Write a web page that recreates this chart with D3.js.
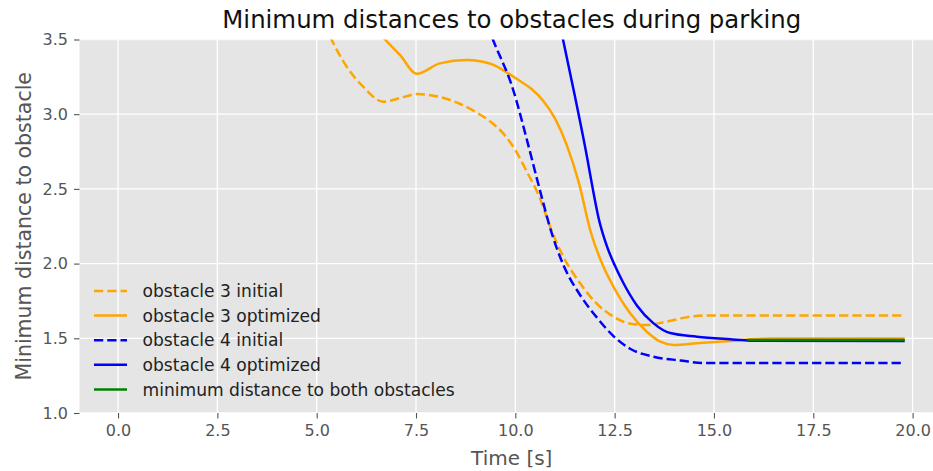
<!DOCTYPE html>
<html>
<head>
<meta charset="utf-8">
<script src="https://cdn.jsdelivr.net/npm/d3@7"></script>
<style>
  html, body { margin: 0; padding: 0; background: #ffffff; }
  svg { display: block; font-family: "DejaVu Sans", sans-serif; }
</style>
</head>
<body>
<svg id="chart" width="933" height="471"></svg>
<script>
// ---------------- data ----------------
const title = "Minimum distances to obstacles during parking";
const xLabel = "Time [s]";
const yLabel = "Minimum distance to obstacle";
const xTicks = [0, 2.5, 5, 7.5, 10, 12.5, 15, 17.5, 20];
const yTicks = [1.0, 1.5, 2.0, 2.5, 3.0, 3.5];

const obs3InitialT = [5.2, 5.41, 5.755, 6.17, 6.675, 7.1, 7.52, 8.1, 8.6, 9.0, 9.4, 9.7, 10.0, 10.3, 10.6, 10.9, 11.2, 11.6, 12.0, 12.5, 12.9, 13.3, 13.8, 14.3, 14.74, 19.8];
const obs3InitialV = [3.6, 3.48, 3.318, 3.184, 3.084, 3.108, 3.135, 3.115, 3.07, 3.015, 2.945, 2.87, 2.76, 2.61, 2.45, 2.23, 2.05, 1.88, 1.745, 1.64, 1.597, 1.589, 1.611, 1.64, 1.653, 1.653];

const obs3OptT = [6.5, 6.72, 7.1, 7.52, 8.1, 8.78, 9.11, 9.45, 9.78, 10.1, 10.4, 10.7, 11.0, 11.3, 11.6, 11.9, 12.2, 12.47, 12.89, 13.31, 13.65, 13.98, 14.57, 15.41, 15.91, 16.5, 19.8];
const obs3OptV = [3.565, 3.5, 3.395, 3.27, 3.34, 3.363, 3.354, 3.33, 3.28, 3.225, 3.17, 3.09, 2.97, 2.79, 2.54, 2.21, 1.99, 1.845, 1.667, 1.544, 1.477, 1.455, 1.467, 1.482, 1.493, 1.498, 1.499];

const obs4InitialT = [9.3, 9.45, 9.95, 10.29, 10.62, 10.92, 11.21, 11.63, 12.05, 12.47, 12.89, 13.48, 14.15, 14.74, 19.8];
const obs4InitialV = [3.59, 3.49, 3.16, 2.83, 2.49, 2.2, 1.99, 1.79, 1.64, 1.515, 1.43, 1.377, 1.352, 1.335, 1.335];

const obs4OptT = [11.12, 11.2, 11.5, 11.8, 11.95, 12.1, 12.3, 12.5, 12.7, 13.06, 13.48, 13.9, 14.57, 15.41, 15.91, 19.8];
const obs4OptV = [3.6, 3.5, 3.12, 2.72, 2.5, 2.3, 2.12, 1.99, 1.88, 1.72, 1.6, 1.535, 1.511, 1.493, 1.484, 1.482];

const minBothT = [15.85, 19.8];
const minBothV = [1.488, 1.488];

const seriesNames = ["obstacle 3 initial", "obstacle 3 optimized", "obstacle 4 initial", "obstacle 4 optimized", "minimum distance to both obstacles"];
const seriesColors = ["orange", "orange", "blue", "blue", "green"];
const seriesDashed = [true, false, true, false, false];
const seriesT = [obs3InitialT, obs3OptT, obs4InitialT, obs4OptT, minBothT];
const seriesV = [obs3InitialV, obs3OptV, obs4InitialV, obs4OptV, minBothV];

// ---------------- layout ----------------
const svg = d3.select("#chart");
const plot = { left: 79.5, right: 944, top: 39.5, bottom: 413 };

const x = d3.scaleLinear().domain([-0.97, 20.79]).range([plot.left, plot.right]);
const y = d3.scaleLinear().domain([1.0, 3.5]).range([plot.bottom, plot.top]);

svg.append("defs").append("clipPath").attr("id", "plotClip")
  .append("rect")
  .attr("x", plot.left).attr("y", plot.top)
  .attr("width", plot.right - plot.left).attr("height", plot.bottom - plot.top);

// background
svg.append("rect")
  .attr("x", plot.left).attr("y", plot.top)
  .attr("width", plot.right - plot.left).attr("height", plot.bottom - plot.top)
  .attr("fill", "#E5E5E5");

// grid
const grid = svg.append("g").attr("clip-path", "url(#plotClip)");
grid.selectAll(".gx").data(xTicks).enter().append("line")
  .attr("x1", d => x(d)).attr("x2", d => x(d))
  .attr("y1", plot.top).attr("y2", plot.bottom)
  .attr("stroke", "#ffffff").attr("stroke-width", 1.33);
grid.selectAll(".gy").data(yTicks).enter().append("line")
  .attr("x1", plot.left).attr("x2", plot.right)
  .attr("y1", d => y(d)).attr("y2", d => y(d))
  .attr("stroke", "#ffffff").attr("stroke-width", 1.33);

// axes
const xAxis = d3.axisBottom(x).tickValues(xTicks).tickFormat(d3.format(".1f")).tickSize(5.5).tickPadding(5);
const yAxis = d3.axisLeft(y).tickValues(yTicks).tickFormat(d3.format(".1f")).tickSize(5.5).tickPadding(6);

const gx = svg.append("g").attr("transform", `translate(0,${plot.bottom})`).call(xAxis);
const gy = svg.append("g").attr("transform", `translate(${plot.left},0)`).call(yAxis);
[gx, gy].forEach(g => {
  g.select(".domain").remove();
  g.selectAll(".tick line").attr("stroke", "#555555").attr("stroke-width", 1.1);
  g.selectAll(".tick text").attr("fill", "#555555").attr("font-size", "16px")
    .attr("font-family", "DejaVu Sans, sans-serif");
});
gx.selectAll(".tick text").attr("dy", "0.76em");

// lines
const lineGen = d3.line()
  .x(d => x(d[0])).y(d => y(d[1]))
  .curve(d3.curveMonotoneX);

const linesG = svg.append("g").attr("clip-path", "url(#plotClip)");
seriesNames.forEach((name, i) => {
  const pts = seriesT[i].map((t, k) => [t, seriesV[i][k]]);
  linesG.append("path")
    .datum(pts)
    .attr("d", lineGen)
    .attr("fill", "none")
    .attr("stroke", seriesColors[i])
    .attr("stroke-width", 2.5)
    .attr("stroke-dasharray", seriesDashed[i] ? "9.25,4" : null);
});

// title
svg.append("text")
  .attr("x", (plot.left + plot.right) / 2).attr("y", 28)
  .attr("text-anchor", "middle")
  .attr("font-size", "24.4px").attr("fill", "#111111")
  .text(title);

// axis labels
svg.append("text")
  .attr("x", (plot.left + plot.right) / 2).attr("y", 465)
  .attr("text-anchor", "middle")
  .attr("font-size", "20px").attr("fill", "#555555")
  .text(xLabel);

svg.append("text")
  .attr("transform", `translate(31,${(plot.top + plot.bottom) / 2}) rotate(-90)`)
  .attr("text-anchor", "middle")
  .attr("font-size", "20.5px").attr("fill", "#555555")
  .text(yLabel);

// legend
const legend = svg.append("g");
const legendTop = 291, legendStep = 24.6;
seriesNames.forEach((name, i) => {
  const yy = legendTop + i * legendStep;
  legend.append("line")
    .attr("x1", 94).attr("x2", 127)
    .attr("y1", yy).attr("y2", yy)
    .attr("stroke", seriesColors[i]).attr("stroke-width", 2.5)
    .attr("stroke-dasharray", seriesDashed[i] ? "9.25,4" : null);
  legend.append("text")
    .attr("x", 142.5).attr("y", yy)
    .attr("dy", "0.36em")
    .attr("font-size", "17.1px").attr("fill", "#222222")
    .text(name);
});
</script>
</body>
</html>
